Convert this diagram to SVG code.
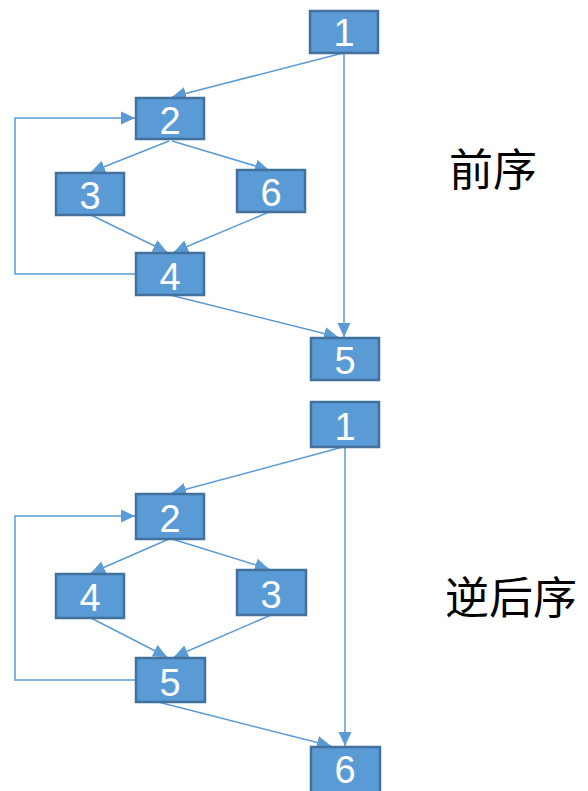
<svg xmlns="http://www.w3.org/2000/svg" width="588" height="791" viewBox="0 0 588 791">
<style>
.node rect{fill:#5B9BD5;stroke:#41719C;stroke-width:2.5}
.node text{fill:#fff;font-family:"Liberation Sans",Arial,sans-serif;font-size:38px;text-anchor:middle}
.edge{fill:none;stroke:#5B9BD5;stroke-width:1.5;marker-end:url(#arr)}
.label{font-family:"Noto Sans CJK SC",sans-serif;font-size:44px;fill:#000}
</style>
<defs>
<marker id="arr" markerUnits="userSpaceOnUse" markerWidth="16" markerHeight="16" viewBox="0 0 16 16" refX="14" refY="8" orient="auto">
<path d="M0,1.5 L14,8 L0,14.5 Z" fill="#5B9BD5"/>
</marker>
</defs>
<rect width="588" height="791" fill="#fff"/>
<g id="connectors">
<path class="edge" d="M343,53 L172,97"/>
<path class="edge" d="M344,53 L344,337"/>
<path class="edge" d="M169,141 L91,172"/>
<path class="edge" d="M172,141 L269,170"/>
<path class="edge" d="M91,215 L167,252"/>
<path class="edge" d="M269,212 L174,252"/>
<path class="edge" d="M136,274 L15,274 L15,118 L135,118"/>
<path class="edge" d="M170,295 L338,337"/>
<path class="edge" d="M343,447 L172,493"/>
<path class="edge" d="M345,447 L345,746"/>
<path class="edge" d="M169,539 L91,573"/>
<path class="edge" d="M172,539 L269,569"/>
<path class="edge" d="M91,618 L167,657"/>
<path class="edge" d="M271,615 L174,657"/>
<path class="edge" d="M136,680 L15,680 L15,516 L135,516"/>
<path class="edge" d="M158,702 L331,746"/>
</g>
<g id="a1" class="node"><rect x="310" y="11" width="68" height="42"/><text x="344" y="46">1</text></g>
<g id="a2" class="node"><rect x="136" y="98" width="68" height="41"/><text x="170" y="134">2</text></g>
<g id="a3" class="node"><rect x="56" y="173" width="68" height="42"/><text x="90" y="209">3</text></g>
<g id="a6" class="node"><rect x="237" y="170" width="68" height="42"/><text x="271" y="206">6</text></g>
<g id="a4" class="node"><rect x="136" y="253" width="68" height="42"/><text x="170" y="290">4</text></g>
<g id="a5" class="node"><rect x="311" y="338" width="68" height="42"/><text x="345" y="374">5</text></g>
<g id="b1" class="node"><rect x="311" y="402" width="68" height="45"/><text x="345" y="440">1</text></g>
<g id="b2" class="node"><rect x="136" y="494" width="68" height="45"/><text x="170" y="532">2</text></g>
<g id="b4" class="node"><rect x="56" y="574" width="68" height="44"/><text x="90" y="611">4</text></g>
<g id="b3" class="node"><rect x="237" y="570" width="69" height="45"/><text x="271" y="608">3</text></g>
<g id="b5" class="node"><rect x="136" y="658" width="69" height="44"/><text x="170" y="696">5</text></g>
<g id="b6" class="node"><rect x="311" y="747" width="69" height="46"/><text x="345" y="783">6</text></g>
<text class="label" x="449" y="186">前序</text>
<text class="label" x="445" y="614">逆后序</text>
</svg>
